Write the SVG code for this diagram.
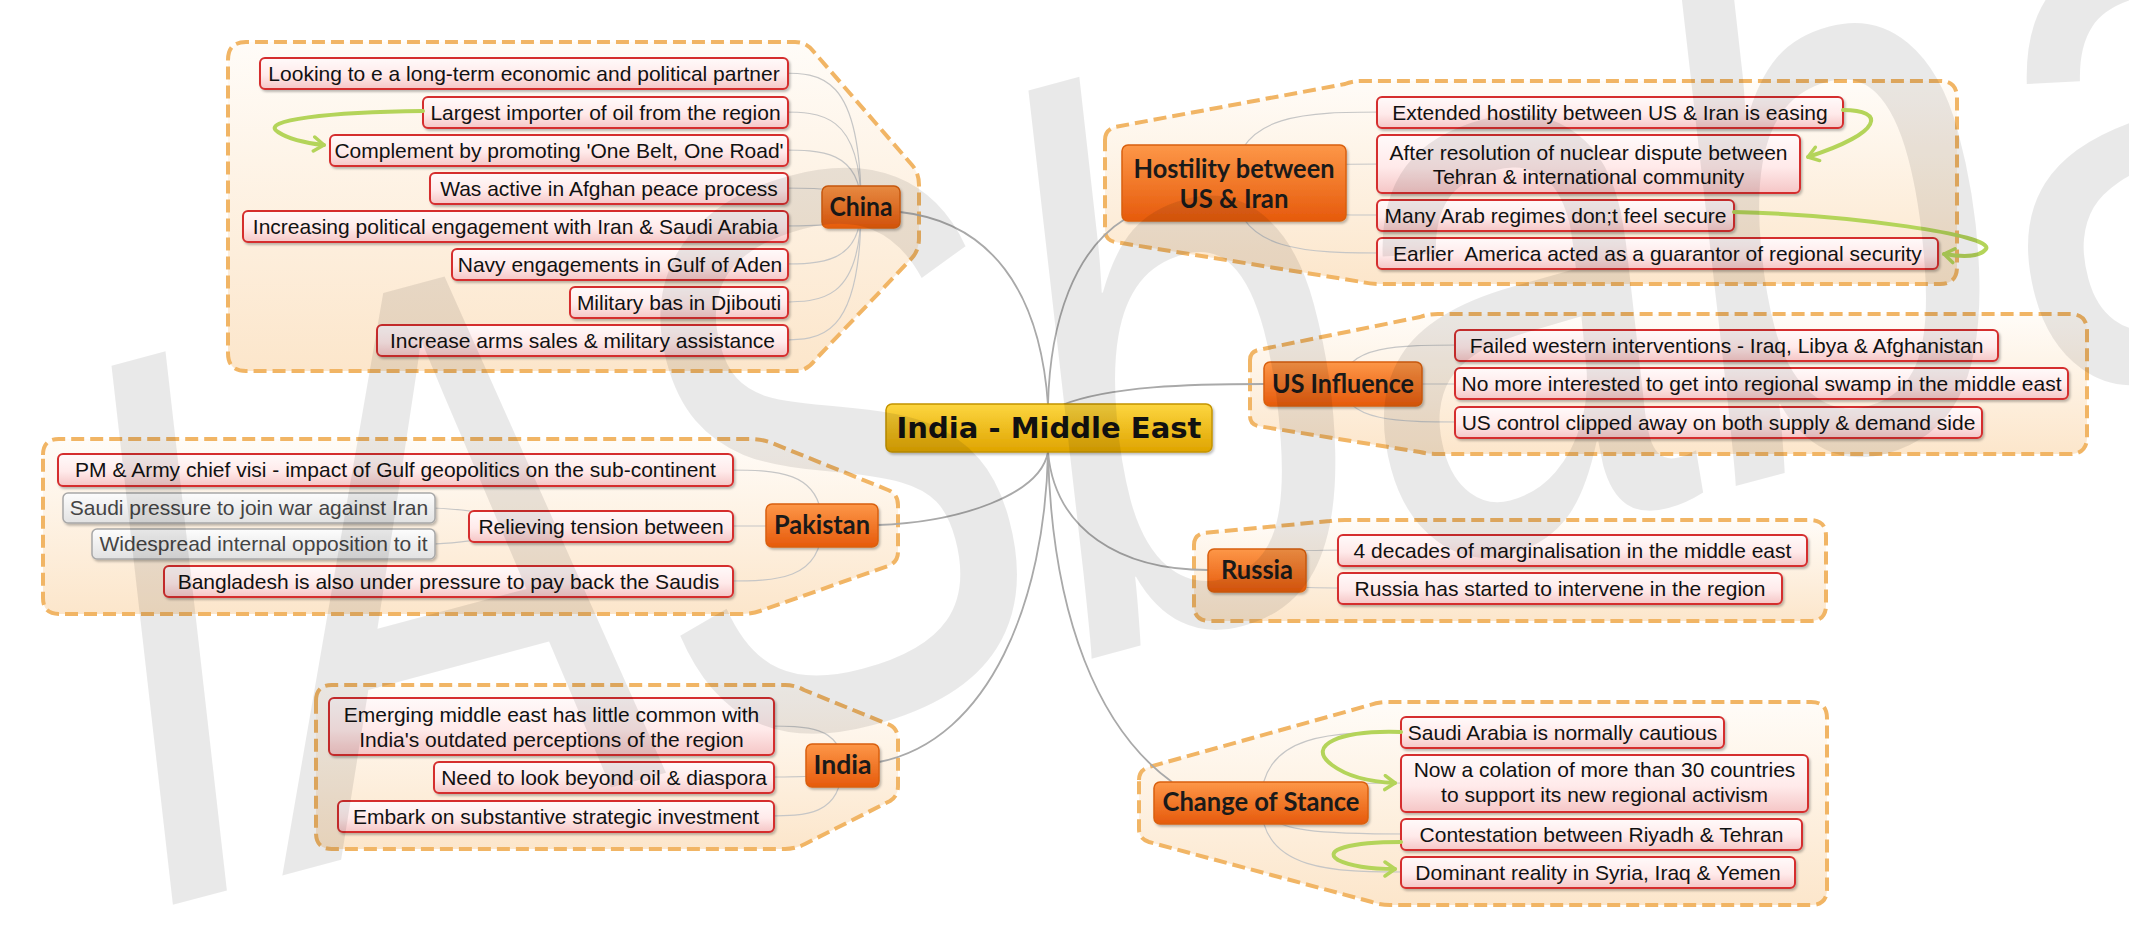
<svg xmlns="http://www.w3.org/2000/svg" width="2129" height="946" viewBox="0 0 2129 946">
<defs>
<linearGradient id="gReg" x1="0" y1="0" x2="0" y2="1"><stop offset="0" stop-color="#fffcf8"/><stop offset="1" stop-color="#fce6cb"/></linearGradient>
<linearGradient id="gBox" x1="0" y1="0" x2="0" y2="1"><stop offset="0" stop-color="#fffafa"/><stop offset="0.55" stop-color="#ffeaea"/><stop offset="1" stop-color="#f5c6c6"/></linearGradient>
<linearGradient id="gGray" x1="0" y1="0" x2="0" y2="1"><stop offset="0" stop-color="#fdfdfd"/><stop offset="1" stop-color="#e2e2e2"/></linearGradient>
<linearGradient id="gTopic" x1="0" y1="0" x2="0" y2="1"><stop offset="0" stop-color="#fd9748"/><stop offset="1" stop-color="#e65a0c"/></linearGradient>
<linearGradient id="gCenter" x1="0" y1="0" x2="0" y2="1"><stop offset="0" stop-color="#fdd640"/><stop offset="1" stop-color="#dfa400"/></linearGradient>
<filter id="sh" x="-5%" y="-20%" width="112%" height="160%"><feDropShadow dx="1.5" dy="2" stdDeviation="1.2" flood-color="#000" flood-opacity="0.25"/></filter>
<marker id="ah" markerWidth="18" markerHeight="18" refX="13" refY="9" orient="auto" markerUnits="userSpaceOnUse"><path d="M3,2 L13,9 L3,16" fill="none" stroke="#b4d45a" stroke-width="3.5" stroke-linejoin="round" stroke-linecap="round"/></marker>
</defs>
<style>
.reg{fill:url(#gReg);stroke:#f1b565;stroke-width:4;stroke-dasharray:13 6;}
.box{fill:url(#gBox);stroke:#d52f2f;stroke-width:2;filter:url(#sh);}
.gbox{fill:url(#gGray);stroke:#a8a8a8;stroke-width:1.5;filter:url(#sh);}
.topic{fill:url(#gTopic);stroke:#d9600f;stroke-width:1.5;filter:url(#sh);}
.center{fill:url(#gCenter);stroke:#c49400;stroke-width:1.5;filter:url(#sh);}
.t{font-family:"Liberation Sans",Arial,sans-serif;font-size:21px;fill:#111;text-anchor:middle;}
.tg{font-family:"Liberation Sans",Arial,sans-serif;font-size:21px;fill:#444;text-anchor:middle;}
.tt{font-family:Lato,"Open Sans",sans-serif;font-weight:bold;font-size:26px;fill:#1a1a1a;text-anchor:middle;}
.tc{font-family:"DejaVu Sans",sans-serif;font-weight:bold;font-size:29px;fill:#111;text-anchor:middle;}
.main{fill:none;stroke:#a9a9a9;stroke-width:1.8;}
.sub{fill:none;stroke:#c6c6c6;stroke-width:1.2;}
.rel{fill:none;stroke:#b4d45a;stroke-width:4;stroke-linecap:round;marker-end:url(#ah);}
</style>
<rect width="2129" height="946" fill="#ffffff"/>
<g id="boundaries">
<path class="reg" d="M228,60 Q228,42 246,42 L795,42 Q807,42 814,52 L912,165 Q919,173 919,185 L919,238 Q919,250 912,258 L815,360 Q807,371 795,371 L246,371 Q228,371 228,353 Z"/>
<path class="reg" d="M1105,140 Q1105,130 1115,127 L1345,84 Q1352,81 1362,81 L1940,81 Q1957,81 1957,98 L1957,267 Q1957,284 1940,284 L1380,284 Q1370,284 1362,282 L1115,242 Q1105,240 1105,230 Z"/>
<path class="reg" d="M1250,360 Q1250,352 1258,350 L1420,317 Q1428,314 1438,314 L2070,314 Q2087,314 2087,331 L2087,437 Q2087,454 2070,454 L1438,454 Q1428,454 1420,452 L1258,426 Q1250,424 1250,416 Z"/>
<path class="reg" d="M1194,545 Q1194,535 1204,533 L1330,521 Q1335,520 1345,520 L1810,520 Q1826,520 1826,536 L1826,605 Q1826,621 1810,621 L1210,621 Q1194,621 1194,605 Z"/>
<path class="reg" d="M43,455 Q43,439 59,439 L750,439 Q762,439 772,443 L888,490 Q898,494 898,505 L898,552 Q898,562 888,566 L760,611 Q752,614 740,614 L59,614 Q43,614 43,598 Z"/>
<path class="reg" d="M316,701 Q316,685 332,685 L785,685 Q795,685 804,690 L890,725 Q898,729 898,740 L898,786 Q898,796 890,801 L805,844 Q795,849 785,849 L332,849 Q316,849 316,833 Z"/>
<path class="reg" d="M1139,780 Q1139,770 1149,767 L1370,705 Q1378,702 1388,702 L1811,702 Q1827,702 1827,718 L1827,889 Q1827,905 1811,905 L1390,905 Q1380,905 1372,902 L1149,842 Q1139,839 1139,829 Z"/>
</g>
<g id="connectors">
<path class="main" d="M1048,405 C1040,290 990,222 900,212"/>
<path class="main" d="M1048,405 C1050,320 1075,250 1125,219"/>
<path class="main" d="M1062,405 C1110,386 1190,384 1264,384"/>
<path class="main" d="M1048,452 C1040,495 960,522 878,525"/>
<path class="main" d="M1048,452 C1045,600 990,740 879,762"/>
<path class="main" d="M1048,452 C1055,530 1120,570 1208,570"/>
<path class="main" d="M1048,452 C1052,620 1100,730 1172,782"/>
<path class="sub" d="M861,207 C861,73 820,73 780,73"/>
<path class="sub" d="M861,207 C861,112 820,112 780,112"/>
<path class="sub" d="M861,207 C861,150 820,150 780,150"/>
<path class="sub" d="M861,207 C861,188 820,188 780,188"/>
<path class="sub" d="M861,207 C861,226 820,226 780,226"/>
<path class="sub" d="M861,207 C861,264 820,264 780,264"/>
<path class="sub" d="M861,207 C861,302 820,302 780,302"/>
<path class="sub" d="M861,207 C861,340 820,340 780,340"/>
<path class="sub" d="M1234,183 C1234,112 1310,112 1385,112"/>
<path class="sub" d="M1234,183 C1234,164 1310,164 1385,164"/>
<path class="sub" d="M1234,183 C1234,215 1310,215 1385,215"/>
<path class="sub" d="M1234,183 C1234,253 1310,253 1385,253"/>
<path class="sub" d="M1343,384 C1343,345 1400,345 1462,345"/>
<path class="sub" d="M1343,384 C1343,384 1400,384 1462,384"/>
<path class="sub" d="M1343,384 C1343,422 1400,422 1462,422"/>
<path class="sub" d="M1257,570 C1257,550 1300,550 1345,550"/>
<path class="sub" d="M1257,570 C1257,588 1300,588 1345,588"/>
<path class="sub" d="M1261,803 C1261,732 1335,732 1408,732"/>
<path class="sub" d="M1261,803 C1261,783 1335,783 1408,783"/>
<path class="sub" d="M1261,803 C1261,834 1335,834 1408,834"/>
<path class="sub" d="M1261,803 C1261,872 1335,872 1408,872"/>
<path class="sub" d="M822,525 C822,470 775,470 726,470"/>
<path class="sub" d="M822,525 C822,526 775,526 726,526"/>
<path class="sub" d="M822,525 C822,581 775,581 726,581"/>
<path class="sub" d="M601,526 C540,526 480,508 430,508"/>
<path class="sub" d="M601,526 C540,526 480,544 430,544"/>
<path class="sub" d="M842,765 C842,726 805,726 767,726"/>
<path class="sub" d="M842,765 C842,777 805,777 767,777"/>
<path class="sub" d="M842,765 C842,816 805,816 767,816"/>
</g>
<g id="center">
<rect class="center" x="886" y="404" width="326" height="48" rx="6"/>
<text class="tc" x="1049" y="438" textLength="305" lengthAdjust="spacingAndGlyphs">India - Middle East</text>
</g>
<g id="china">
<rect class="topic" x="822" y="186" width="78" height="42" rx="6"/>
<text class="tt" x="861" y="216" textLength="63" lengthAdjust="spacingAndGlyphs">China</text>
</g>
<g id="china-1"><rect class="box" x="260" y="58" width="528" height="31" rx="5"/><text class="t" x="524" y="81">Looking to e a long-term economic and political partner</text></g>
<g id="china-2"><rect class="box" x="423" y="97" width="365" height="31" rx="5"/><text class="t" x="605.5" y="120">Largest importer of oil from the region</text></g>
<g id="china-3"><rect class="box" x="330" y="135" width="458" height="31" rx="5"/><text class="t" x="559" y="158">Complement by promoting 'One Belt, One Road'</text></g>
<g id="china-4"><rect class="box" x="430" y="173" width="358" height="31" rx="5"/><text class="t" x="609" y="196">Was active in Afghan peace process</text></g>
<g id="china-5"><rect class="box" x="243" y="211" width="545" height="31" rx="5"/><text class="t" x="515.5" y="234">Increasing political engagement with Iran &amp; Saudi Arabia</text></g>
<g id="china-6"><rect class="box" x="452" y="249" width="336" height="31" rx="5"/><text class="t" x="620" y="272">Navy engagements in Gulf of Aden</text></g>
<g id="china-7"><rect class="box" x="570" y="287" width="218" height="31" rx="5"/><text class="t" x="679" y="310">Military bas in Djibouti</text></g>
<g id="china-8"><rect class="box" x="377" y="325" width="411" height="31" rx="5"/><text class="t" x="582.5" y="348">Increase arms sales &amp; military assistance</text></g>
<g id="hostility">
<rect class="topic" x="1122" y="145" width="224" height="76" rx="6"/>
<text class="tt" x="1234" y="178" textLength="201" lengthAdjust="spacingAndGlyphs">Hostility between</text>
<text class="tt" x="1234" y="208" textLength="109" lengthAdjust="spacingAndGlyphs">US &amp; Iran</text>
</g>
<g id="hostility-1"><rect class="box" x="1377" y="97" width="466" height="31" rx="5"/><text class="t" x="1610" y="120">Extended hostility between US &amp; Iran is easing</text></g>
<g id="hostility-2"><rect class="box" x="1377" y="135" width="423" height="58" rx="5"/><text class="t" x="1588.5" y="160">After resolution of nuclear dispute between</text><text class="t" x="1588.5" y="184">Tehran &amp; international community</text></g>
<g id="hostility-3"><rect class="box" x="1377" y="200" width="357" height="31" rx="5"/><text class="t" x="1555.5" y="223">Many Arab regimes don;t feel secure</text></g>
<g id="hostility-4"><rect class="box" x="1377" y="238" width="561" height="31" rx="5"/><text class="t" x="1657.5" y="261" xml:space="preserve">Earlier  America acted as a guarantor of regional security</text></g>
<g id="us-influence">
<rect class="topic" x="1264" y="362" width="158" height="44" rx="6"/>
<text class="tt" x="1343" y="393" textLength="142" lengthAdjust="spacingAndGlyphs">US Influence</text>
</g>
<g id="us-1"><rect class="box" x="1455" y="330" width="543" height="31" rx="5"/><text class="t" x="1726.5" y="353">Failed western interventions - Iraq, Libya &amp; Afghanistan</text></g>
<g id="us-2"><rect class="box" x="1455" y="368" width="613" height="31" rx="5"/><text class="t" x="1761.5" y="391">No more interested to get into regional swamp in the middle east</text></g>
<g id="us-3"><rect class="box" x="1455" y="407" width="527" height="31" rx="5"/><text class="t" x="1718.5" y="430">US control clipped away on both supply &amp; demand side</text></g>
<g id="russia">
<rect class="topic" x="1208" y="549" width="98" height="43" rx="6"/>
<text class="tt" x="1257" y="579" textLength="72" lengthAdjust="spacingAndGlyphs">Russia</text>
</g>
<g id="russia-1"><rect class="box" x="1338" y="535" width="469" height="31" rx="5"/><text class="t" x="1572.5" y="558">4 decades of marginalisation in the middle east</text></g>
<g id="russia-2"><rect class="box" x="1338" y="573" width="444" height="31" rx="5"/><text class="t" x="1560" y="596">Russia has started to intervene in the region</text></g>
<g id="stance">
<rect class="topic" x="1154" y="782" width="214" height="42" rx="6"/>
<text class="tt" x="1261" y="811" textLength="197" lengthAdjust="spacingAndGlyphs">Change of Stance</text>
</g>
<g id="stance-1"><rect class="box" x="1401" y="717" width="323" height="31" rx="5"/><text class="t" x="1562.5" y="740">Saudi Arabia is normally cautious</text></g>
<g id="stance-2"><rect class="box" x="1401" y="755" width="407" height="57" rx="5"/><text class="t" x="1604.5" y="777">Now a colation of more than 30 countries</text><text class="t" x="1604.5" y="802">to support its new regional activism</text></g>
<g id="stance-3"><rect class="box" x="1401" y="819" width="401" height="31" rx="5"/><text class="t" x="1601.5" y="842">Contestation between Riyadh &amp; Tehran</text></g>
<g id="stance-4"><rect class="box" x="1401" y="857" width="394" height="31" rx="5"/><text class="t" x="1598" y="880">Dominant reality in Syria, Iraq &amp; Yemen</text></g>
<g id="pakistan">
<rect class="topic" x="766" y="504" width="112" height="43" rx="6"/>
<text class="tt" x="822" y="534" textLength="96" lengthAdjust="spacingAndGlyphs">Pakistan</text>
</g>
<g id="pakistan-1"><rect class="box" x="58" y="454" width="675" height="32" rx="5"/><text class="t" x="395.5" y="477">PM &amp; Army chief visi - impact of Gulf geopolitics on the sub-continent</text></g>
<g id="pakistan-2"><rect class="box" x="469" y="511" width="264" height="31" rx="5"/><text class="t" x="601" y="534">Relieving tension between</text></g>
<g id="pakistan-2a"><rect class="gbox" x="63" y="493" width="372" height="30" rx="5"/><text class="tg" x="249" y="515">Saudi pressure to join war against Iran</text></g>
<g id="pakistan-2b"><rect class="gbox" x="92" y="529" width="343" height="30" rx="5"/><text class="tg" x="263.5" y="551">Widespread internal opposition to it</text></g>
<g id="pakistan-3"><rect class="box" x="164" y="566" width="569" height="31" rx="5"/><text class="t" x="448.5" y="589">Bangladesh is also under pressure to pay back the Saudis</text></g>
<g id="india">
<rect class="topic" x="806" y="744" width="73" height="43" rx="6"/>
<text class="tt" x="842.5" y="774" textLength="58" lengthAdjust="spacingAndGlyphs">India</text>
</g>
<g id="india-1"><rect class="box" x="329" y="698" width="445" height="57" rx="5"/><text class="t" x="551.5" y="722">Emerging middle east has little common with</text><text class="t" x="551.5" y="747">India's outdated perceptions of the region</text></g>
<g id="india-2"><rect class="box" x="434" y="762" width="340" height="31" rx="5"/><text class="t" x="604" y="785">Need to look beyond oil &amp; diaspora</text></g>
<g id="india-3"><rect class="box" x="338" y="801" width="436" height="31" rx="5"/><text class="t" x="556" y="824">Embark on substantive strategic investment</text></g>
<g id="relationships">
<path class="rel" d="M423,111 C330,112 258,120 278,132 C290,140 305,143 324,145"/>
<path class="rel" d="M1843,110 C1885,110 1885,132 1808,157"/>
<path class="rel" d="M1734,212 C1850,215 1995,235 1986,249 C1980,257 1962,257 1944,254"/>
<path class="rel" d="M1401,732 C1340,730 1305,745 1332,765 C1348,777 1372,782 1395,783"/>
<path class="rel" d="M1401,842 C1350,842 1322,850 1338,860 C1352,867 1372,869 1395,869"/>
</g>
<text transform="translate(150,911) rotate(-15)" x="0" y="0" font-family="Liberation Sans, Arial, sans-serif" font-style="italic" font-size="780" textLength="2300" lengthAdjust="spacingAndGlyphs" fill="#000" fill-opacity="0.085">IASbaba</text>
</svg>
